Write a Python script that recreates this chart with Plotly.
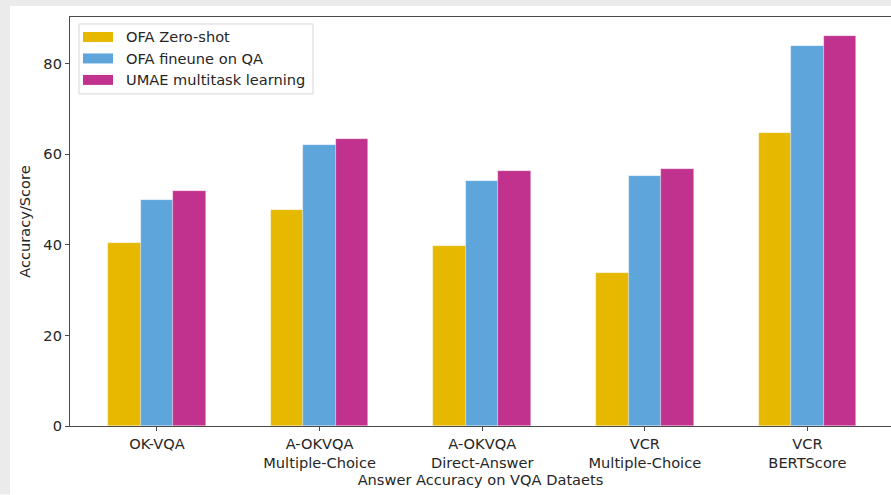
import plotly.graph_objects as go

categories = ["OK-VQA", "A-OKVQA<br>Multiple-Choice", "A-OKVQA<br>Direct-Answer",
              "VCR<br>Multiple-Choice", "VCR<br>BERTScore"]
series_names = ["OFA Zero-shot", "OFA fineune on QA", "UMAE multitask learning"]
zero_shot = [40.5, 47.6, 39.8, 33.7, 64.8]
finetune_qa = [49.9, 62.0, 54.0, 55.1, 84.0]
umae = [51.8, 63.3, 56.2, 56.7, 86.1]
colors = ["#E6B800", "#5EA5DB", "#C1328E"]

W, H = 891, 495
L, R, T, B = 70, 0, 17, 68.5
pw = W - L - R
ph = H - T - B
FS = 14.6

xs = list(range(len(categories)))
fig = go.Figure()
for i, (name, vals) in enumerate(zip(series_names, [zero_shot, finetune_qa, umae])):
    fig.add_trace(go.Bar(
        x=[x + (i - 1) * 0.2 for x in xs], y=vals, width=0.2, name=name,
        marker=dict(color=colors[i], line=dict(width=0.6, color="rgba(255,255,255,0.5)")),
        showlegend=False,
    ))

font = "DejaVu Sans, sans-serif"
axcol = "#4a4a4a"
txtcol = "#262626"


def px_x(p):
    return (p - L) / pw


def px_y(p):
    return (H - B - p) / ph


bg = "#EBEBEB"
shapes = [
    dict(type="rect", xref="paper", yref="paper", x0=px_x(0), x1=px_x(10), y0=px_y(H), y1=px_y(0),
         fillcolor=bg, line=dict(width=0), layer="below"),
    dict(type="rect", xref="paper", yref="paper", x0=px_x(0), x1=px_x(W), y0=px_y(6), y1=px_y(0),
         fillcolor=bg, line=dict(width=0), layer="below"),
    # legend frame
    dict(type="rect", xref="paper", yref="paper", x0=px_x(79), x1=px_x(313), y0=px_y(94), y1=px_y(24),
         fillcolor="rgba(255,255,255,0.85)", line=dict(width=1, color="#d6d6d6"), layer="above"),
]
annotations = []
row_y = [37, 58.5, 80]
for i, name in enumerate(series_names):
    shapes.append(dict(type="rect", xref="paper", yref="paper",
                       x0=px_x(83), x1=px_x(113), y0=px_y(row_y[i] + 5), y1=px_y(row_y[i] - 5),
                       fillcolor=colors[i], line=dict(width=0), layer="above"))
    annotations.append(dict(text=name, xref="paper", yref="paper", x=px_x(124), y=px_y(row_y[i]),
                            xanchor="left", yanchor="middle", showarrow=False,
                            font=dict(family=font, size=FS, color=txtcol)))

fig.update_layout(
    width=W, height=H,
    margin=dict(l=L, r=R, t=T, b=B),
    paper_bgcolor="white", plot_bgcolor="white",
    font=dict(family=font, size=FS, color=txtcol),
    barmode="overlay",
    bargap=0,
    shapes=shapes,
    annotations=annotations,
    showlegend=False,
    xaxis=dict(range=[-0.535, 4.514], tickmode="array", tickvals=xs, ticktext=categories,
               showline=True, linecolor=axcol, linewidth=1.3, mirror=True,
               ticks="outside", ticklen=4, tickcolor=axcol, tickwidth=1.1,
               showgrid=False, zeroline=False,
               tickfont=dict(family=font, size=FS, color=txtcol),
               title=dict(text="Answer Accuracy on VQA Dataets", standoff=3,
                          font=dict(family=font, size=FS, color=txtcol))),
    yaxis=dict(range=[0, 90.3], tickvals=[0, 20, 40, 60, 80],
               showline=True, linecolor=axcol, linewidth=1.3,
               ticks="outside", ticklen=4, tickcolor=axcol, tickwidth=1.1,
               showgrid=False, zeroline=False,
               tickfont=dict(family=font, size=FS, color=txtcol),
               title=dict(text="Accuracy/Score", standoff=9,
                          font=dict(family=font, size=FS, color=txtcol))),
)

fig.write_html("out.html")
